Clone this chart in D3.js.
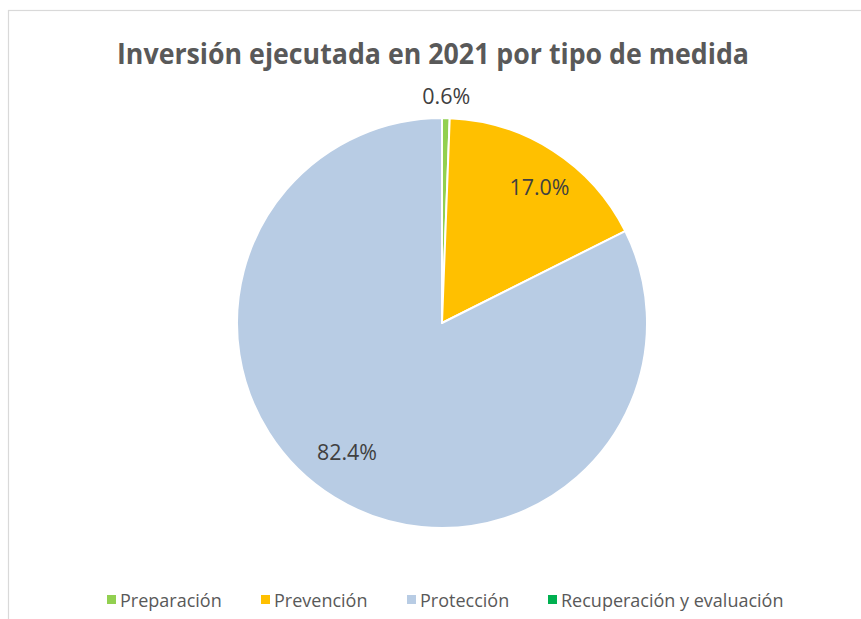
<!DOCTYPE html>
<html><head><meta charset="utf-8">
<script src="https://cdn.jsdelivr.net/npm/d3@7"></script>
<style>body{margin:0;background:#fff}svg{display:block}</style>
</head><body>
<svg id="c" width="861" height="619"></svg>
<script>
const categories = ["Preparación", "Prevención", "Protección", "Recuperación y evaluación"];
const values = [0.6, 17.0, 82.4, 0.0];
const labels = ["0.6%", "17.0%", "82.4%", ""];
const colors = ["#92D050", "#FFC000", "#B8CCE4", "#00B050"];
const title = "Inversión ejecutada en 2021 por tipo de medida";

const svg = d3.select("#c");
const W = 861, H = 619;
const font = "'Open Sans', 'Noto Sans', sans-serif";

svg.append("rect").attr("x", 8.5).attr("y", 10.5).attr("width", W + 10).attr("height", H + 10)
  .attr("fill", "#fff").attr("stroke", "#d9d9d9").attr("stroke-width", 1.2);

svg.append("text").attr("x", 433).attr("y", 64).attr("text-anchor", "middle")
  .attr("font-family", font).attr("font-weight", "bold").attr("font-size", 28)
  .attr("fill", "#595959").attr("textLength", 632).attr("lengthAdjust", "spacingAndGlyphs")
  .text(title);

const cx = 442, cy = 323, r = 205;
const data = categories.map((c, i) => ({c, v: values[i], l: labels[i], col: colors[i]}));
const pie = d3.pie().value(d => d.v).sort(null);
const arcs = pie(data);
const arc = d3.arc().innerRadius(0).outerRadius(r);
const g = svg.append("g").attr("transform", `translate(${cx},${cy})`);
g.selectAll("path").data(arcs).join("path")
  .attr("d", arc).attr("fill", d => d.data.col)
  .attr("stroke", "#fff").attr("stroke-width", 2).attr("stroke-linejoin", "round");

function labelPos(d) {
  if (d.data.v < 3) {
    const a = (d.startAngle + d.endAngle) / 2, rr = r + 22;
    return [rr * Math.sin(a), -rr * Math.cos(a)];
  }
  const a = (d.startAngle + d.endAngle) / 2 + 0.065, rr = r * 0.8;
  return [rr * Math.sin(a), -rr * Math.cos(a) - 4];
}
g.selectAll("text.lbl").data(arcs.filter(d => d.data.l)).join("text")
  .attr("class", "lbl")
  .attr("transform", d => { const p = labelPos(d); return `translate(${p[0]},${p[1]})`; })
  .attr("text-anchor", "middle").attr("dy", "0.36em")
  .attr("font-family", font).attr("font-size", 21).attr("fill", "#404040")
  .attr("textLength", d => d.data.l.length * 12).attr("lengthAdjust", "spacingAndGlyphs")
  .text(d => d.data.l);

const legX = [107, 261, 407, 548];
const lg = svg.append("g");
data.forEach((d, i) => {
  lg.append("rect").attr("x", legX[i]).attr("y", 595).attr("width", 9).attr("height", 9).attr("fill", d.col);
  lg.append("text").attr("x", legX[i] + 13).attr("y", 607)
    .attr("font-family", font).attr("font-size", 18).attr("fill", "#595959")
    .text(d.c);
});
</script>
</body></html>
